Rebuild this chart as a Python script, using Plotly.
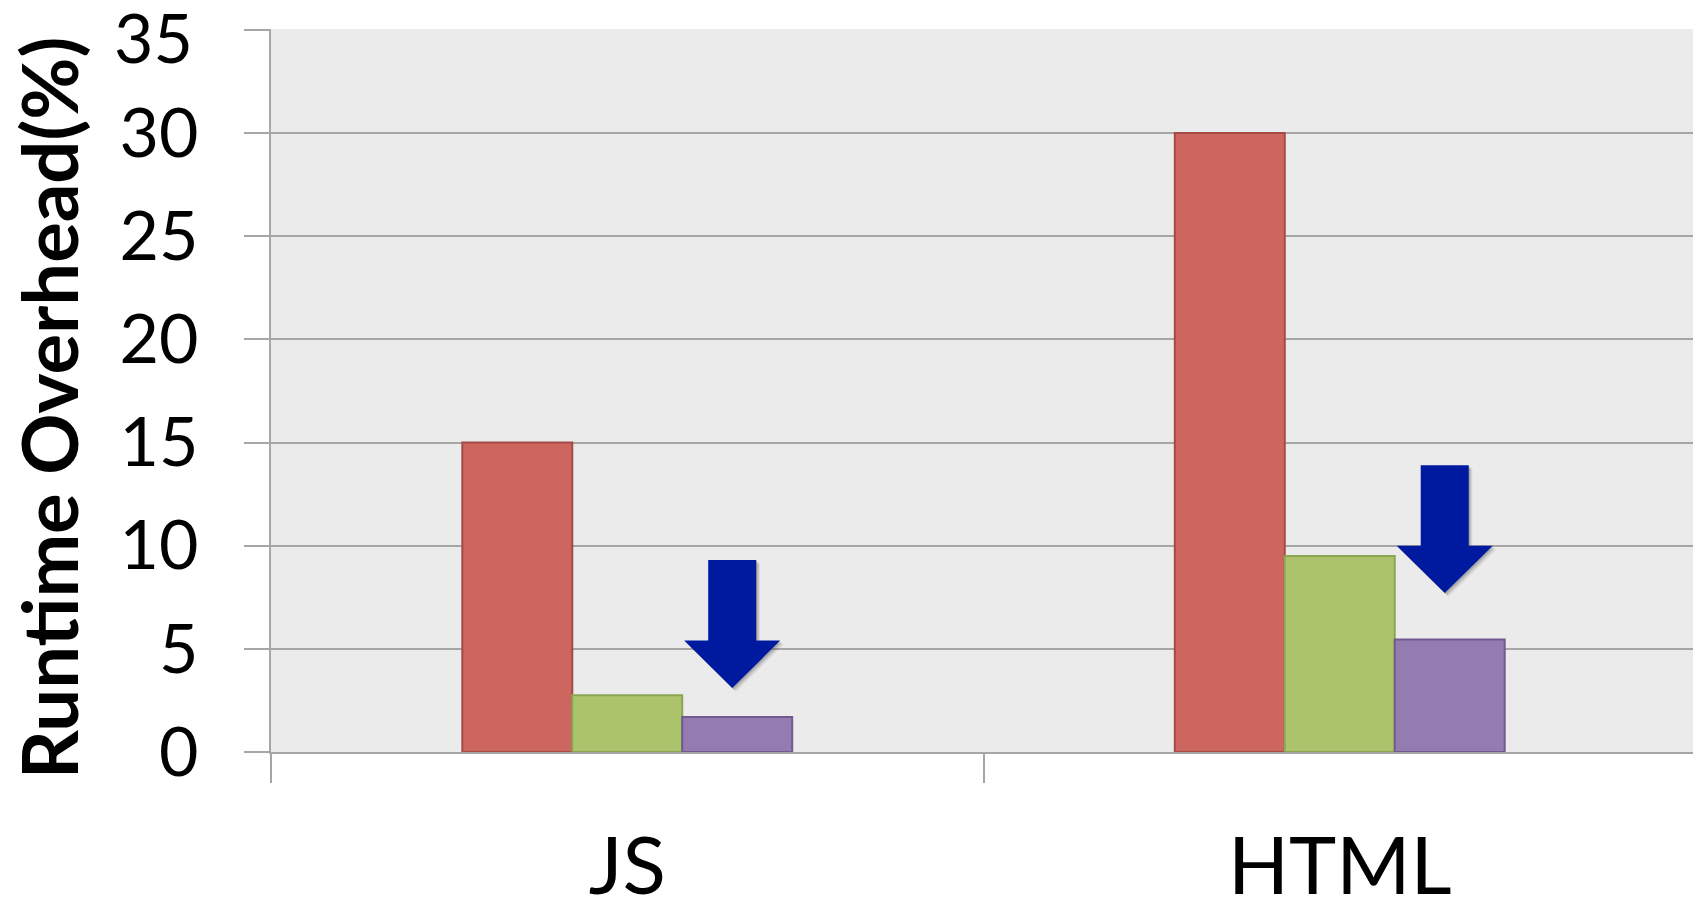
import plotly.graph_objects as go

categories = ["JS", "HTML"]
series_names = ["Baseline", "Optimized", "Final"]
red_values = [15.0, 30.0]
green_values = [2.75, 9.5]
purple_values = [1.7, 5.45]
arrow_tip_values = [3.1, 7.7]
y_ticks = [0, 5, 10, 15, 20, 25, 30, 35]

fills = ["#CD665F", "#ABC46C", "#957CB0"]
borders = ["#A54A46", "#8BA552", "#72598F"]
series_values = [red_values, green_values, purple_values]

BARGAP = 0.537
# page body has an 8px default margin, so the figure is sized to fit the window
W = 1693
H = 902
ML, MR, MT, MB = 263, 5, 21, 158
PW = W - ML - MR

fig = go.Figure()
for name, vals, fc, bc in zip(series_names, series_values, fills, borders):
    fig.add_trace(go.Bar(
        x=categories, y=vals, name=name,
        marker=dict(color=fc, line=dict(color=bc, width=2)),
        showlegend=False,
    ))

# arrows centred over the third bar of each group
bar_w = (1 - BARGAP) / 3
shaft_hw = 0.0337
head_hw = 0.0674
head_h = 2.3
shaft_h = 3.9
shapes = []
for i, tip in enumerate(arrow_tip_values):
    cx = i + bar_w - 0.007
    def path(dx=0.0, dy=0.0):
        pts = [
            (cx - shaft_hw, tip + head_h + shaft_h),
            (cx + shaft_hw, tip + head_h + shaft_h),
            (cx + shaft_hw, tip + head_h),
            (cx + head_hw, tip + head_h),
            (cx, tip),
            (cx - head_hw, tip + head_h),
            (cx - shaft_hw, tip + head_h),
        ]
        return "M " + " L ".join(f"{x+dx},{y+dy}" for x, y in pts) + " Z"
    for k, op in [(3, 0.10), (2, 0.15), (1, 0.2)]:
        shapes.append(dict(type="path", xref="x", yref="y", path=path(0.0017 * k, -0.06 * k),
                           fillcolor="rgba(60,60,60,1)", opacity=op, line=dict(width=0), layer="above"))
    shapes.append(dict(type="path", xref="x", yref="y", path=path(),
                       fillcolor="#001A9F", line=dict(width=0), layer="above"))

# top tick label is nudged down (as in the reference) so it stays inside the page
top_tick = y_ticks[-1]
tick_text = [str(v) for v in y_ticks[:-1]] + [""]

fig.update_layout(
    width=W, height=H,
    margin=dict(l=ML, r=MR, t=MT, b=MB, autoexpand=False),
    paper_bgcolor="white",
    plot_bgcolor="#EBEBEB",
    barmode="group",
    bargap=BARGAP,
    bargroupgap=0,
    font=dict(family="Lato", color="black"),
    shapes=shapes,
    annotations=[
        dict(
            text="<b>Runtime Overhead(%)</b>", textangle=-90,
            xref="paper", yref="paper", x=(40 - ML) / PW, y=(H - MB - 400) / (H - MB - MT),
            xanchor="center", yanchor="middle", showarrow=False,
            font=dict(family="Lato", size=76, color="black"),
        ),
        dict(
            text=str(top_tick), xref="paper", yref="y", x=(187 - ML) / PW, y=top_tick,
            xanchor="right", yanchor="middle", yshift=-7, showarrow=False,
            font=dict(family="Lato", size=68, color="black"),
        ),
    ],
)
fig.update_xaxes(
    type="category", range=[-0.5, 1.5], automargin=False,
    showline=True, linecolor="#A6A6A6", linewidth=2,
    ticks="outside", tickson="boundaries", ticklen=29, tickcolor="#A6A6A6", tickwidth=2,
    tickfont=dict(family="Lato", size=80, color="black"),
    ticklabelstandoff=44,
    showgrid=False, zeroline=False,
)
fig.update_yaxes(
    range=[0, 35.04], tickvals=y_ticks, ticktext=tick_text, automargin=False,
    showline=True, linecolor="#A6A6A6", linewidth=2,
    ticks="outside", ticklen=25, tickcolor="#A6A6A6", tickwidth=2,
    tickfont=dict(family="Lato", size=68, color="black"),
    ticklabelstandoff=32, ticklabeloverflow="allow",
    showgrid=True, gridcolor="#A6A6A6", gridwidth=2,
    zeroline=False,
)

fig.write_html("out.html")
